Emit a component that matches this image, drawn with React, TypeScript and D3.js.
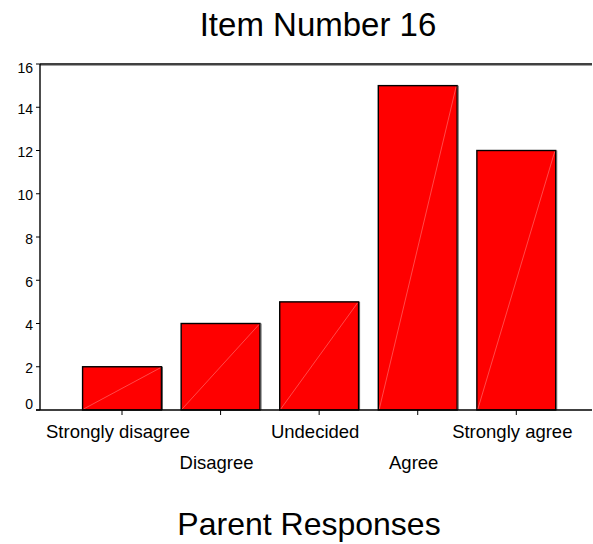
import React, { useEffect, useRef } from 'react';
import * as d3 from 'd3';

const categories = ['Strongly disagree', 'Disagree', 'Undecided', 'Agree', 'Strongly agree'];
const counts = [2, 4, 5, 15, 12];
const yTicks = [0, 2, 4, 6, 8, 10, 12, 14, 16];

const W = 593;
const H = 544;

const App: React.FC = () => {
  const svgRef = useRef<SVGSVGElement>(null);

  useEffect(() => {
    if (!svgRef.current) return;
    const svg = d3.select(svgRef.current);
    svg.selectAll('*').remove();

    const left = 40, right = 592, top = 64, bottom = 410;
    const font = '"Liberation Sans", Arial, sans-serif';

    const x = d3.scaleBand<string>()
      .domain(categories)
      .range([left, right])
      .paddingInner(0.2)
      .paddingOuter(0.4)
      .align(0.54);
    const y = d3.scaleLinear().domain([0, 16]).range([bottom, top]);

    // title
    svg.append('text')
      .attr('x', 318).attr('y', 36)
      .attr('text-anchor', 'middle')
      .attr('font-family', font).attr('font-size', 33)
      .text('Item Number 16');

    // bars
    const bars = svg.append('g');
    categories.forEach((c, i) => {
      const bx = x(c)!;
      const bw = x.bandwidth();
      const by = y(counts[i]);
      bars.append('rect')
        .attr('x', bx).attr('y', by)
        .attr('width', bw).attr('height', bottom - by)
        .attr('fill', '#ff0000')
        .attr('stroke', '#000').attr('stroke-width', 1.4);
      // faint diagonal seam
      bars.append('line')
        .attr('x1', bx + 1).attr('y1', bottom - 1)
        .attr('x2', bx + bw - 1).attr('y2', by + 1)
        .attr('stroke', '#ff9a9a').attr('stroke-width', 0.6).attr('opacity', 0.8);
      // shadow on right edge
      bars.append('line')
        .attr('x1', bx + bw + 1).attr('y1', by)
        .attr('x2', bx + bw + 1).attr('y2', bottom)
        .attr('stroke', '#555').attr('stroke-width', 1);
    });

    // frame lines
    svg.append('line')
      .attr('x1', left).attr('y1', top).attr('x2', right).attr('y2', top)
      .attr('stroke', '#000').attr('stroke-width', 1.4);
    svg.append('line')
      .attr('x1', left).attr('y1', top + 1.5).attr('x2', right).attr('y2', top + 1.5)
      .attr('stroke', '#888').attr('stroke-width', 0.8);
    svg.append('line')
      .attr('x1', left).attr('y1', top).attr('x2', left).attr('y2', bottom)
      .attr('stroke', '#000').attr('stroke-width', 1.4);
    svg.append('line')
      .attr('x1', 36).attr('y1', bottom).attr('x2', right).attr('y2', bottom)
      .attr('stroke', '#000').attr('stroke-width', 1.4);

    // y ticks
    const yg = svg.append('g');
    yTicks.forEach((t) => {
      yg.append('line')
        .attr('x1', 36).attr('y1', y(t)).attr('x2', left).attr('y2', y(t))
        .attr('stroke', '#000').attr('stroke-width', 1);
      const shift = t === 0 ? -6.5 : t === 16 ? 4 : 1.5;
      yg.append('text')
        .attr('x', 33).attr('y', y(t) + shift + 5)
        .attr('text-anchor', 'end')
        .attr('font-family', font).attr('font-size', 14)
        .text(t);
    });

    // x ticks and staggered labels
    const xg = svg.append('g');
    categories.forEach((c, i) => {
      const cx = x(c)! + x.bandwidth() / 2;
      xg.append('line')
        .attr('x1', cx).attr('y1', bottom).attr('x2', cx).attr('y2', bottom + 5)
        .attr('stroke', '#000').attr('stroke-width', 1);
      xg.append('text')
        .attr('x', cx - 4).attr('y', i % 2 === 0 ? 438 : 469)
        .attr('text-anchor', 'middle')
        .attr('font-family', font).attr('font-size', 18.5)
        .text(c);
    });

    // axis title
    svg.append('text')
      .attr('x', 309).attr('y', 535)
      .attr('text-anchor', 'middle')
      .attr('font-family', font).attr('font-size', 32)
      .text('Parent Responses');
  }, []);

  return (
    <svg
      ref={svgRef}
      width={W}
      height={H}
      style={{ position: 'absolute', left: 0, top: 0, background: '#fff' }}
    />
  );
};

export default App;
